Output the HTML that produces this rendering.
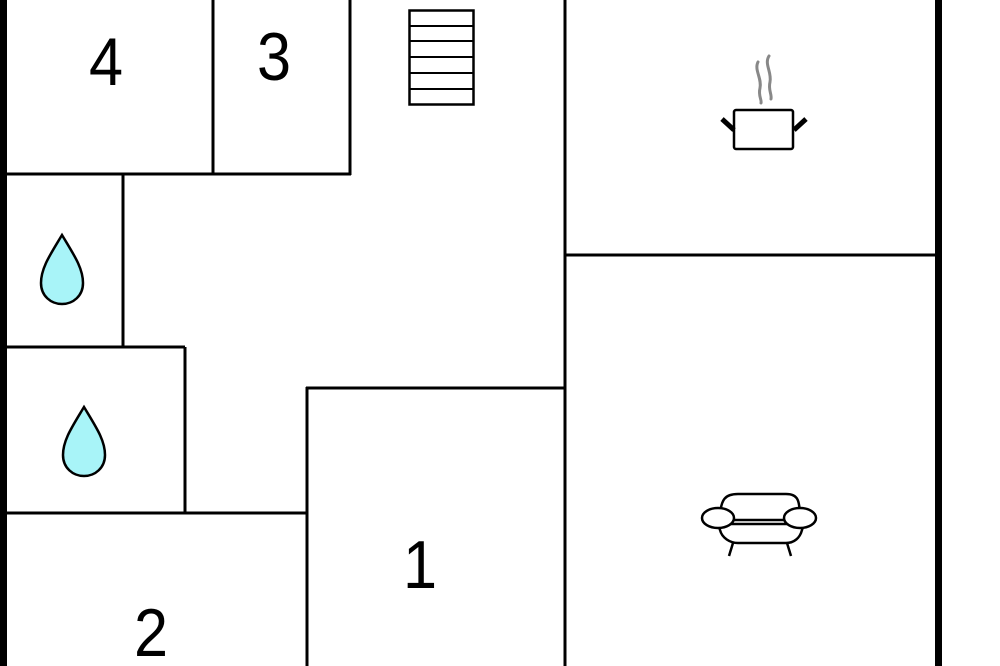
<!DOCTYPE html>
<html><head><style>body{margin:0;background:#fff}svg{display:block}</style></head><body>
<svg width="1000" height="666" viewBox="0 0 1000 666" xmlns="http://www.w3.org/2000/svg">
<rect width="1000" height="666" fill="#fff"/>
<g stroke="#000" stroke-width="3" fill="none">
<line x1="4" y1="174" x2="351" y2="174"/>
<line x1="213" y1="0" x2="213" y2="174"/>
<line x1="350" y1="0" x2="350" y2="175"/>
<line x1="123" y1="174" x2="123" y2="347"/>
<line x1="4" y1="347" x2="185" y2="347"/>
<line x1="185" y1="347" x2="185" y2="513"/>
<line x1="4" y1="513" x2="307" y2="513"/>
<line x1="307" y1="387" x2="307" y2="666"/>
<line x1="306" y1="388" x2="565" y2="388"/>
<line x1="565" y1="0" x2="565" y2="666"/>
<line x1="565" y1="255" x2="936" y2="255"/>
<rect x="409.5" y="10.5" width="64" height="94" stroke-width="2.5"/>
<line x1="409" y1="26" x2="474" y2="26" stroke-width="2"/>
<line x1="409" y1="41" x2="474" y2="41" stroke-width="2"/>
<line x1="409" y1="57" x2="474" y2="57" stroke-width="2"/>
<line x1="409" y1="73" x2="474" y2="73" stroke-width="2"/>
<line x1="409" y1="89" x2="474" y2="89" stroke-width="2"/>
</g>
<rect x="0" y="0" width="7" height="666" fill="#000"/>
<rect x="935" y="0" width="7" height="666" fill="#000"/>
<g stroke="#000" stroke-width="2.5" fill="#a8f4f8">
<path d="M62 235 C50 255 41 268 41 283 C41 296 51 304 62 304 C73 304 83 296 83 283 C83 268 74 255 62 235Z"/>
<path d="M84 407 C72 427 63 440 63 455 C63 468 73 476 84 476 C95 476 105 468 105 455 C105 440 96 427 84 407Z"/>
</g>
<g font-family="Liberation Sans, sans-serif" font-size="68" text-anchor="middle" fill="#000">
<text x="106" y="85" transform="translate(106 0) scale(0.9 1) translate(-106 0)">4</text>
<text x="274" y="80" transform="translate(274 0) scale(0.9 1) translate(-274 0)">3</text>
<text x="420" y="588" transform="translate(420 0) scale(0.9 1) translate(-420 0)">1</text>
<text x="151" y="656" transform="translate(151 0) scale(0.9 1) translate(-151 0)">2</text>
</g>
<g fill="none" stroke="#888" stroke-width="3" stroke-linecap="round">
<path d="M758 62 C754 70 762 78 760 88 C758 96 762 100 761 103"/>
<path d="M769 56 C764 64 772 72 770 82 C768 90 772 94 771 99"/>
</g>
<g stroke="#000" fill="none">
<rect x="734" y="110" width="59" height="39" stroke-width="2.5" rx="2"/>
<line x1="722" y1="119" x2="734" y2="130" stroke-width="5"/>
<line x1="806" y1="119" x2="794" y2="130" stroke-width="5"/>
</g>
<g stroke="#000" stroke-width="2.5" fill="#fff">
<path d="M720 520 C720 498 726 494 738 494 L786 494 C798 494 800 500 800 520 Z"/>
<path d="M718 524 L720 530 C722 538 730 543 738 543 L786 543 C794 543 800 538 802 530 L804 524 Z"/>
<line x1="733" y1="543" x2="729" y2="556"/>
<line x1="787" y1="543" x2="791" y2="556"/>
<ellipse cx="718" cy="518" rx="16" ry="10"/>
<ellipse cx="800" cy="518" rx="16" ry="10"/>
</g>
</svg>
</body></html>
